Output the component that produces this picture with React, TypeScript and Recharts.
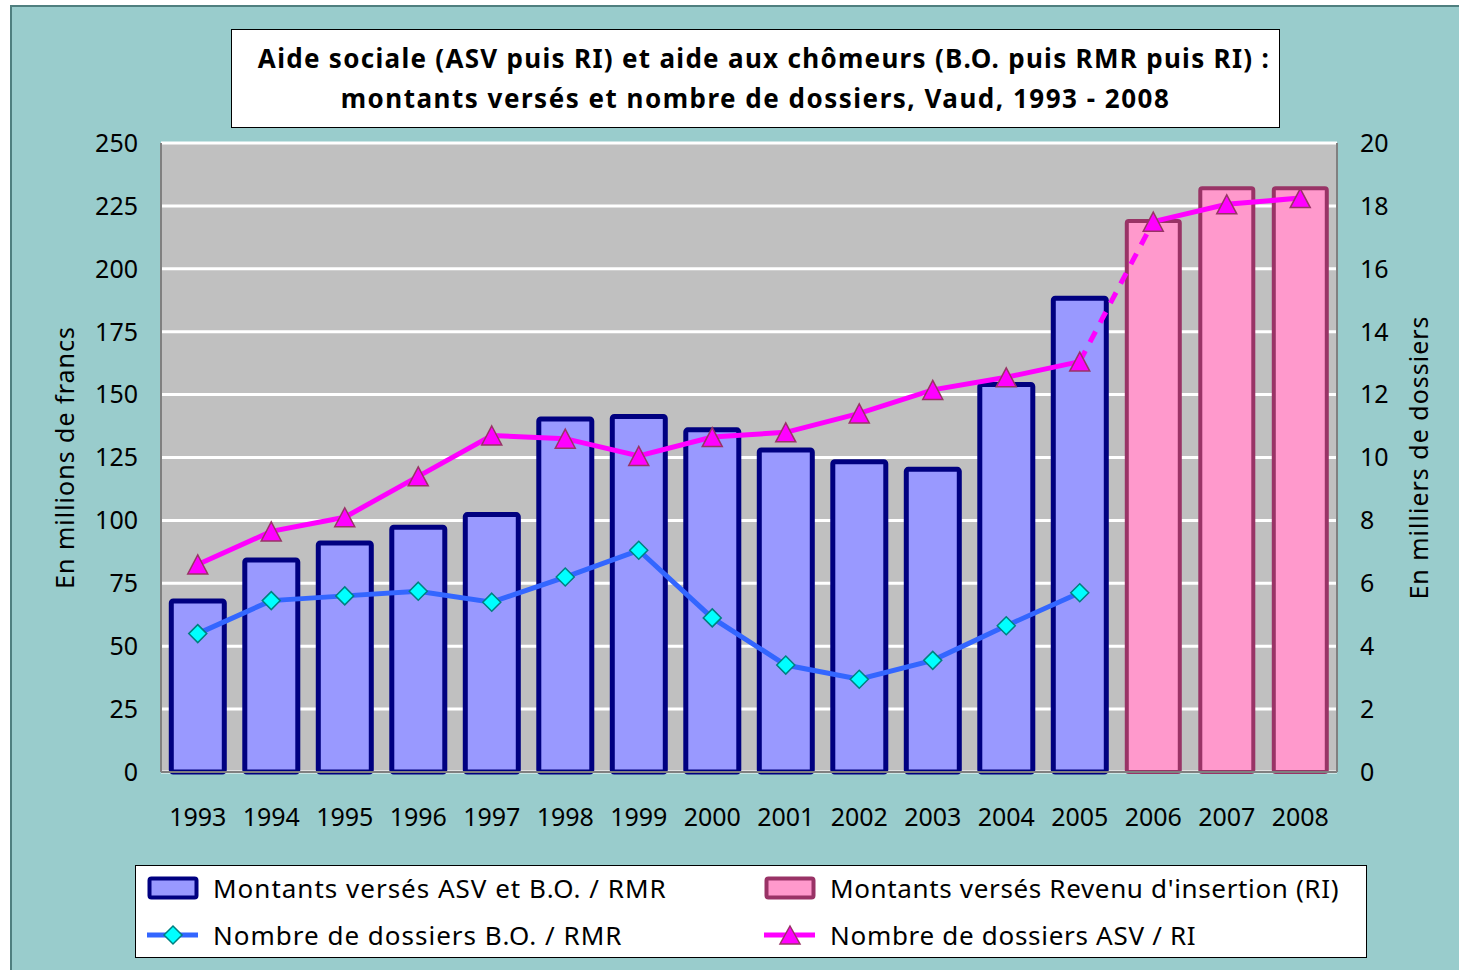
import React from 'react';
import {
  ComposedChart, Bar, Line, XAxis, YAxis, CartesianGrid, Legend,
} from 'recharts';

const years = ['1993', '1994', '1995', '1996', '1997', '1998', '1999', '2000', '2001', '2002', '2003', '2004', '2005', '2006', '2007', '2008'];
const montantsASV: (number | null)[] = [68, 84.3, 91, 97.3, 102.3, 140.3, 141.3, 136, 128, 123.3, 120.3, 154, 188.3, null, null, null];
const montantsRI: (number | null)[] = [null, null, null, null, null, null, null, null, null, null, null, null, null, 219, 232, 232];
const dossiersBO: (number | null)[] = [4.4, 5.45, 5.6, 5.75, 5.4, 6.2, 7.05, 4.9, 3.4, 2.95, 3.55, 4.65, 5.7, null, null, null];
const dossiersASV: (number | null)[] = [6.6, 7.65, 8.1, 9.4, 10.7, 10.6, 10.05, 10.65, 10.8, 11.4, 12.15, 12.55, 13.05, null, null, null];
const dossiersRI: (number | null)[] = [null, null, null, null, null, null, null, null, null, null, null, null, null, 17.5, 18.05, 18.25];
const dossiersLink: (number | null)[] = [null, null, null, null, null, null, null, null, null, null, null, null, 13.05, 17.5, null, null];

const leftTicks = [0, 25, 50, 75, 100, 125, 150, 175, 200, 225, 250];
const rightTicks = [0, 2, 4, 6, 8, 10, 12, 14, 16, 18, 20];

const titleLine1 = 'Aide sociale (ASV puis RI) et aide aux chômeurs (B.O. puis RMR puis RI) :';
const titleLine2 = 'montants versés et nombre de dossiers, Vaud, 1993 - 2008';
const leftLabel = 'En millions de francs';
const rightLabel = 'En milliers de dossiers';
const legendLabels = [
  'Montants versés ASV et B.O. / RMR',
  'Montants versés Revenu d\'insertion (RI)',
  'Nombre de dossiers B.O. / RMR',
  'Nombre de dossiers ASV / RI',
];

const data = years.map((y, i) => ({
  year: y,
  asv: montantsASV[i],
  ri: montantsRI[i],
  bo: dossiersBO[i],
  dasv: dossiersASV[i],
  dri: dossiersRI[i],
  dlink: dossiersLink[i],
}));

const FONT = '"Noto Sans", "Open Sans", sans-serif';

const Diamond = (props: any) => {
  const { cx, cy, index } = props;
  if (cx == null || cy == null || props.value == null) return <g key={`d${index}`} />;
  const r = 9;
  return (
    <path key={`d${index}`} d={`M${cx},${cy - r} L${cx + r},${cy} L${cx},${cy + r} L${cx - r},${cy} Z`}
      fill="#00FFFF" stroke="#008080" strokeWidth={1.5} />
  );
};

const Triangle = (props: any) => {
  const { cx, cy, index } = props;
  if (cx == null || cy == null || props.value == null) return <g key={`t${index}`} />;
  const w = 10, h = 9.5;
  return (
    <path key={`t${index}`} d={`M${cx},${cy - h} L${cx + w},${cy + h} L${cx - w},${cy + h} Z`}
      fill="#FF00FF" stroke="#993366" strokeWidth={1.5} />
  );
};

const LegendContent = () => {
  const text: React.CSSProperties = { position: 'absolute', fontSize: 26, fontFamily: FONT, color: '#000', whiteSpace: 'nowrap', lineHeight: '30px', letterSpacing: 1 };
  return (
    <div style={{ position: 'relative', width: 1230, height: 91, background: '#fff', border: '1px solid #000' }}>
      <svg width={1230} height={91} style={{ position: 'absolute', left: 0, top: 0 }}>
        <rect x={13.5} y={12.5} width={47} height={19} fill="#9999FF" stroke="#000080" strokeWidth={4} rx={2} />
        <rect x={630.5} y={12.5} width={47} height={19} fill="#FF99CC" stroke="#993366" strokeWidth={4} rx={2} />
        <line x1={11} y1={69} x2={62} y2={69} stroke="#3366FF" strokeWidth={5} />
        <path d="M37,60 L46,69 L37,78 L28,69 Z" fill="#00FFFF" stroke="#008080" strokeWidth={1.5} />
        <line x1={628} y1={69} x2={679} y2={69} stroke="#FF00FF" strokeWidth={5} />
        <path d="M654,60 L664,78 L644,78 Z" fill="#FF00FF" stroke="#993366" strokeWidth={1.5} />
      </svg>
      <div style={{ ...text, left: 77, top: 7 }}>{legendLabels[0]}</div>
      <div style={{ ...text, left: 694, top: 7, letterSpacing: 0.65 }}>{legendLabels[1]}</div>
      <div style={{ ...text, left: 77, top: 54 }}>{legendLabels[2]}</div>
      <div style={{ ...text, left: 694, top: 54, letterSpacing: 0.7 }}>{legendLabels[3]}</div>
    </div>
  );
};

const LeftLabel = (props: any) => {
  const vb = props.viewBox || {};
  const x = vb.x + 64;
  const y = vb.y + vb.height / 2;
  return (
    <text x={x} y={y} transform={`rotate(-90 ${x} ${y})`} textAnchor="middle" dominantBaseline="central"
      fontSize={25} fontFamily={FONT} fill="#000" letterSpacing={1}>{leftLabel}</text>
  );
};

const RightLabel = (props: any) => {
  const vb = props.viewBox || {};
  const x = vb.x + 81;
  const y = vb.y + vb.height / 2;
  return (
    <text x={x} y={y} transform={`rotate(-90 ${x} ${y})`} textAnchor="middle" dominantBaseline="central"
      fontSize={25} fontFamily={FONT} fill="#000" letterSpacing={1}>{rightLabel}</text>
  );
};

export default function App() {
  const tickStyle = { fontSize: 25, fontFamily: FONT, fill: '#000' };
  return (
    <div style={{ position: 'absolute', left: 0, top: 0, width: 1459, height: 970, overflow: 'hidden', background: '#fff' }}>
      <div style={{ position: 'absolute', left: 10, top: 5, width: 1460, height: 980, background: '#99CCCC', border: '2px solid #4F7F7F', boxSizing: 'border-box' }} />
      <div style={{ position: 'absolute', left: 0, top: 0 }}>
        <ComposedChart width={1459} height={970} data={data}
          margin={{ top: 143, right: 0, bottom: 138, left: 0 }} barCategoryGap="14%">
          <CartesianGrid yAxisId="left" vertical={false} stroke="#FFFFFF" strokeWidth={3} fill="#C0C0C0" />
          <XAxis dataKey="year" tickLine={false} tickSize={0} tickMargin={36} height={60}
            axisLine={{ stroke: '#808080', strokeWidth: 2 }} tick={tickStyle} interval={0} />
          <YAxis yAxisId="left" width={161} domain={[0, 250]} ticks={leftTicks} type="number"
            tickLine={false} tickSize={0} tickMargin={23} axisLine={{ stroke: '#808080', strokeWidth: 2 }}
            tick={tickStyle} label={<LeftLabel />} interval={0} />
          <YAxis yAxisId="right" orientation="right" width={122} domain={[0, 20]} ticks={rightTicks} type="number"
            tickLine={false} tickSize={0} tickMargin={23} axisLine={{ stroke: '#808080', strokeWidth: 2 }}
            tick={tickStyle} label={<RightLabel />} interval={0} />
          <Bar yAxisId="left" dataKey="asv" stackId="a" fill="#9999FF" stroke="#000080" strokeWidth={5} radius={2} isAnimationActive={false} />
          <Bar yAxisId="left" dataKey="ri" stackId="a" fill="#FF99CC" stroke="#993366" strokeWidth={4} radius={2} isAnimationActive={false} />
          <Line yAxisId="right" dataKey="bo" stroke="#3366FF" strokeWidth={5} dot={<Diamond />} activeDot={false} connectNulls={false} isAnimationActive={false} />
          <Line yAxisId="right" dataKey="dlink" stroke="#FF00FF" strokeWidth={5} strokeDasharray="12 10" dot={false} activeDot={false} connectNulls={false} isAnimationActive={false} />
          <Line yAxisId="right" dataKey="dasv" stroke="#FF00FF" strokeWidth={5} dot={<Triangle />} activeDot={false} connectNulls={false} isAnimationActive={false} />
          <Line yAxisId="right" dataKey="dri" stroke="#FF00FF" strokeWidth={5} dot={<Triangle />} activeDot={false} connectNulls={false} isAnimationActive={false} />
          <Legend layout="horizontal" verticalAlign="middle" align="center" content={<LegendContent />}
            wrapperStyle={{ left: 135, top: 865, width: 1232, height: 93 }} />
        </ComposedChart>
      </div>
      <div style={{ position: 'absolute', left: 231, top: 29, width: 1049, height: 99, background: '#fff', border: '1.5px solid #000', boxSizing: 'border-box', fontFamily: FONT, fontWeight: 'bold', fontSize: 26, letterSpacing: 1.3, textAlign: 'center', color: '#000', whiteSpace: 'nowrap' }}>
        <div style={{ position: 'absolute', left: 0, right: 0, top: 11, lineHeight: '34px', paddingLeft: 17 }}>{titleLine1}</div>
        <div style={{ position: 'absolute', left: 0, right: 0, top: 51, lineHeight: '34px', letterSpacing: 1.5 }}>{titleLine2}</div>
      </div>
    </div>
  );
}
